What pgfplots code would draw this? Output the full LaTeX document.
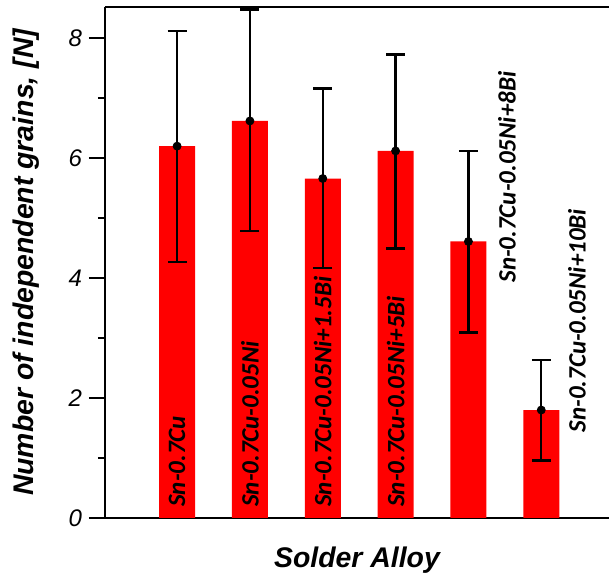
\documentclass[border=0pt]{standalone}
\usepackage{fontspec}
\setmainfont{Liberation Sans}
\newfontfamily\carlito{Carlito}
\usepackage{pgfplots}
\pgfplotsset{compat=1.18}
\usepackage{pgfplotstable}
\pgfplotstableread{
x y ep em
1 6.20 1.92 1.93
2 6.62 1.86 1.84
3 5.66 1.50 1.49
4 6.12 1.61 1.63
5 4.61 1.51 1.52
6 1.80 0.83 0.84
}\datatable
\begin{document}
\begin{tikzpicture}
\begin{axis}[
  scale only axis,
  width=252pt, height=255.5pt,
  xmin=0.01, xmax=6.93,
  ymin=0, ymax=8.52,
  axis x line*=box, axis y line*=left,
  axis line style={line width=0.75pt},
  xtick=\empty,
  ytick={0,2,4,6,8},
  minor ytick={1,3,5,7},
  tick align=outside,
  major tick length=8pt,
  minor tick length=3.5pt,
  every tick/.style={black, line width=0.75pt},
  /pgf/number format/assume math mode=true,
  yticklabel style={font=\fontsize{12}{14}\selectfont\itshape},
  ylabel={Number of independent grains, [N]},
  xlabel={Solder Alloy},
  ylabel style={font=\fontsize{14.2}{16}\selectfont\bfseries\itshape, at={(axis description cs:0,0.5)}, anchor=center, yshift=39.5pt},
  xlabel style={font=\fontsize{14.2}{16}\selectfont\bfseries\itshape, at={(axis description cs:0.5,0)}, anchor=center, yshift=-21pt},
  clip=false,
]
\addplot[ybar, bar width=18pt, fill=red, draw=none] table[x=x, y=y] {\datatable};
\addplot[only marks, mark=*, mark size=2pt, black,
  error bars/.cd, y dir=both, y explicit,
  error bar style={line width=1.2pt, black},
  error mark options={rotate=90, mark size=4.75pt, line width=1.2pt, black}]
  table[x=x, y=y, y error plus=ep, y error minus=em] {\datatable};
\tikzset{blab/.style={rotate=90, anchor=west, inner sep=0pt, font=\carlito\fontsize{12.5}{14}\selectfont\bfseries\itshape}}
\node[blab] at (axis cs:1,0.18) {Sn-0.7Cu};
\node[blab] at (axis cs:2,0.18) {Sn-0.7Cu-0.05Ni};
\node[blab] at (axis cs:3,0.18) {Sn-0.7Cu-0.05Ni+1.5Bi};
\node[blab] at (axis cs:4,0.18) {Sn-0.7Cu-0.05Ni+5Bi};
\node[blab] at (axis cs:5.53,3.92) {Sn-0.7Cu-0.05Ni+8Bi};
\node[blab] at (axis cs:6.49,1.42) {Sn-0.7Cu-0.05Ni+10Bi};
\coordinate (bl) at (rel axis cs:0,0);
\coordinate (tr) at (rel axis cs:1,1);
\end{axis}
\pgfresetboundingbox
\path[use as bounding box] ([xshift=-52.5pt,yshift=-31.5pt]bl) rectangle ([yshift=3.5pt]tr);
\end{tikzpicture}
\end{document}
